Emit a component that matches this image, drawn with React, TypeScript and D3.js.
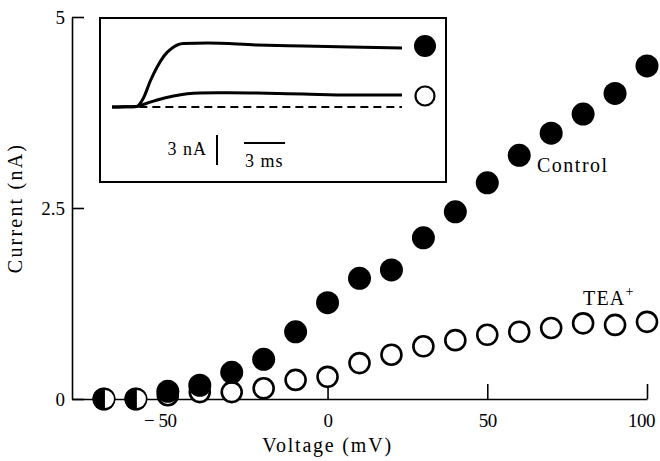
import { useEffect, useRef } from 'react';
import * as d3 from 'd3';

// voltage steps (mV)
const voltages = [-70, -60, -50, -40, -30, -20, -10, 0, 10, 20, 30, 40, 50, 60, 70, 80, 90, 100];
// steady-state current (nA)
const control = [0, 0, 0.1, 0.18, 0.35, 0.52, 0.88, 1.26, 1.58, 1.69, 2.11, 2.45, 2.83, 3.19, 3.48, 3.73, 4.0, 4.36];
const tea = [0, 0, 0.05, 0.09, 0.09, 0.14, 0.25, 0.29, 0.47, 0.58, 0.69, 0.77, 0.84, 0.88, 0.93, 0.99, 0.97, 1.01];

const xTicks = [-50, 0, 50, 100];
const yTicks = [0, 2.5, 5];

// inset current traces: time (ms), current (nA)
const traceTime = [0, 1.0, 1.8, 2.3, 2.8, 3.3, 3.8, 4.4, 5.2, 7, 10.6, 14, 17.4, 21.2];
const traceControl = [0, 0.02, 0.06, 0.9, 2.6, 4.0, 5.1, 5.9, 6.35, 6.4, 6.2, 6.1, 6.0, 5.9];
const teaTime = [0, 1.0, 1.8, 2.5, 3.3, 4.5, 6.4, 8.5, 10.6, 14, 17.4, 21.2];
const traceTea = [0, 0.02, 0.05, 0.35, 0.7, 1.1, 1.4, 1.42, 1.4, 1.3, 1.2, 1.2];

const FONT = '"Liberation Serif", "Times New Roman", serif';

const App = () => {
	const ref = useRef<SVGSVGElement>(null);

	useEffect(() => {
		const svg = d3.select(ref.current);
		svg.selectAll('*').remove();

		const x = d3.scaleLinear().domain([-80, 100]).range([72, 647]);
		const y = d3.scaleLinear().domain([0, 5]).range([399, 17]);

		// x axis, ticks pointing up
		const gx = svg
			.append('g')
			.attr('transform', `translate(0, ${y(0)})`)
			.call(
				d3
					.axisBottom(x)
					.tickValues(xTicks)
					.tickSizeInner(-15)
					.tickSizeOuter(0)
					.tickPadding(15)
					.tickFormat((d) => ((d as number) < 0 ? '\u2212 ' + Math.abs(d as number) : String(d)))
			);
		gx.select('.domain').attr('stroke-width', 1.6);
		gx.selectAll('.tick line').attr('stroke-width', 1.6);
		gx.selectAll('text')
			.style('font-family', FONT)
			.style('font-size', '19px')
			.style('letter-spacing', '-0.5px')
			.attr('fill', '#000')
			.attr('dx', (d) => ((d as number) < 0 ? -8 : (d as number) === 100 ? -6 : 0));

		// y axis, ticks pointing right
		const gy = svg
			.append('g')
			.attr('transform', `translate(${x(-80)}, 0)`)
			.call(
				d3
					.axisLeft(y)
					.tickValues(yTicks)
					.tickSizeInner(-12)
					.tickSizeOuter(0)
					.tickPadding(7)
					.tickFormat((d) => String(d))
			);
		gy.select('.domain').attr('stroke-width', 1.6);
		gy.selectAll('.tick line').attr('stroke-width', 1.6);
		gy.selectAll('text').style('font-family', FONT).style('font-size', '19px').attr('fill', '#000');

		// axis titles
		svg
			.append('text')
			.attr('x', x(0))
			.attr('y', 452)
			.attr('text-anchor', 'middle')
			.style('font-family', FONT)
			.style('font-size', '20px')
			.style('letter-spacing', '1.8px')
			.text('Voltage (mV)');

		svg
			.append('text')
			.attr('transform', `translate(22, ${y(2.5)}) rotate(-90)`)
			.attr('text-anchor', 'middle')
			.style('font-family', FONT)
			.style('font-size', '20px')
			.style('letter-spacing', '2.2px')
			.text('Current (nA)');

		const pts = voltages.map((v, i) => ({ v, c: control[i], t: tea[i] }));

		// TEA points (open)
		svg
			.append('g')
			.selectAll('circle')
			.data(pts)
			.join('circle')
			.attr('cx', (d) => x(d.v))
			.attr('cy', (d) => y(d.t))
			.attr('r', 10)
			.attr('fill', '#fff')
			.attr('stroke', '#000')
			.attr('stroke-width', 2.6);

		// control points (filled)
		svg
			.append('g')
			.selectAll('circle')
			.data(pts)
			.join('circle')
			.attr('cx', (d) => x(d.v))
			.attr('cy', (d) => y(d.c))
			.attr('r', 11.5)
			.attr('fill', '#000');

		// where both coincide, the open circle shows through on the right half
		const half = d3.arc()({ innerRadius: 0, outerRadius: 9, startAngle: 0, endAngle: Math.PI } as any);
		svg
			.append('g')
			.selectAll('path')
			.data(pts.filter((d) => d.c === d.t))
			.join('path')
			.attr('transform', (d) => `translate(${x(d.v) + 1}, ${y(d.t)})`)
			.attr('d', half as string)
			.attr('fill', '#fff');

		// series labels
		svg
			.append('text')
			.attr('x', 537)
			.attr('y', 172)
			.style('font-family', FONT)
			.style('font-size', '20px')
			.style('letter-spacing', '1.5px')
			.text('Control');

		const teaLabel = svg
			.append('text')
			.attr('x', 583)
			.attr('y', 305)
			.style('font-family', FONT)
			.style('font-size', '20px')
			.style('letter-spacing', '1.2px');
		teaLabel.append('tspan').text('TEA');
		teaLabel.append('tspan').attr('dy', -9).style('font-size', '14px').text('+');

		// inset
		const inset = svg.append('g');
		inset
			.append('rect')
			.attr('x', 100)
			.attr('y', 18)
			.attr('width', 346)
			.attr('height', 164)
			.attr('fill', '#fff')
			.attr('stroke', '#000')
			.attr('stroke-width', 2);

		const tx = d3.scaleLinear().domain([0, 21.2]).range([112, 402]);
		const iy = d3.scaleLinear().domain([0, 6.4]).range([107, 43]);

		const line = d3
			.line<[number, number]>()
			.x((d) => tx(d[0]))
			.y((d) => iy(d[1]))
			.curve(d3.curveMonotoneX);

		inset
			.append('path')
			.attr('d', line([[2.0, 0], [21.2, 0]]))
			.attr('fill', 'none')
			.attr('stroke', '#000')
			.attr('stroke-width', 2)
			.attr('stroke-dasharray', '8 5');

		inset
			.append('path')
			.attr('d', line(teaTime.map((t, i) => [t, traceTea[i]] as [number, number])))
			.attr('fill', 'none')
			.attr('stroke', '#000')
			.attr('stroke-width', 3);

		inset
			.append('path')
			.attr('d', line(traceTime.map((t, i) => [t, traceControl[i]] as [number, number])))
			.attr('fill', 'none')
			.attr('stroke', '#000')
			.attr('stroke-width', 3);

		inset.append('circle').attr('cx', 425).attr('cy', 46).attr('r', 11).attr('fill', '#000');
		inset
			.append('circle')
			.attr('cx', 425)
			.attr('cy', 96)
			.attr('r', 9.5)
			.attr('fill', '#fff')
			.attr('stroke', '#000')
			.attr('stroke-width', 2.2);

		// scale bars
		inset
			.append('line')
			.attr('x1', 217)
			.attr('x2', 217)
			.attr('y1', 135)
			.attr('y2', 135 + (iy(0) - iy(3)))
			.attr('stroke', '#000')
			.attr('stroke-width', 2);
		inset
			.append('text')
			.attr('x', 207)
			.attr('y', 155)
			.attr('text-anchor', 'end')
			.style('font-family', FONT)
			.style('font-size', '18px')
			.style('letter-spacing', '1px')
			.text('3 nA');

		inset
			.append('line')
			.attr('x1', 244)
			.attr('x2', 244 + (tx(3) - tx(0)))
			.attr('y1', 143)
			.attr('y2', 143)
			.attr('stroke', '#000')
			.attr('stroke-width', 2);
		inset
			.append('text')
			.attr('x', 245)
			.attr('y', 167)
			.style('font-family', FONT)
			.style('font-size', '18px')
			.style('letter-spacing', '1px')
			.text('3 ms');
	}, []);

	return (
		<svg
			ref={ref}
			width={660}
			height={461}
			style={{ position: 'absolute', left: 0, top: 0, background: '#fff' }}
		></svg>
	);
};

export default App;
